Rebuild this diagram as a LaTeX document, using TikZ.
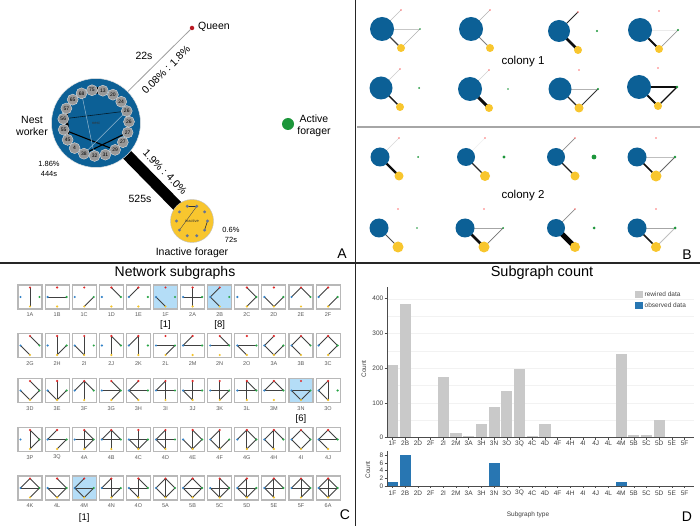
\documentclass[tikz,border=0pt]{standalone}
\usepackage{fontspec}
\setmainfont{Liberation Sans}
\usetikzlibrary{calc}
\definecolor{nestblue}{RGB}{12,96,150}
\definecolor{inactyellow}{RGB}{248,198,46}
\definecolor{actgreen}{RGB}{28,150,58}
\definecolor{queenred}{RGB}{185,25,35}
\definecolor{ringgray}{RGB}{152,152,152}
\definecolor{dotgray}{RGB}{100,115,150}
\definecolor{hlblue}{RGB}{180,221,247}
\definecolor{bargray}{RGB}{201,201,201}
\definecolor{barblue}{RGB}{40,118,178}
\definecolor{sgred}{RGB}{225,40,40}
\definecolor{sgblue}{RGB}{50,130,200}
\definecolor{sggreen}{RGB}{40,165,70}
\definecolor{sgyellow}{RGB}{245,195,40}
\newcommand\myfs[2]{\fontsize{#1}{#2}\selectfont}
\begin{document}
\begin{tikzpicture}[x=1pt,y=-1pt,
  lbl/.style={inner sep=0, font=\myfs{10.5}{12.5}, align=center},
  small/.style={inner sep=0, font=\myfs{7.5}{10}, align=center},
  ringnode/.style={circle, fill=ringgray, draw=white!75!gray, line width=0.4, minimum size=11, inner sep=0, font=\myfs{5}{5}},
  inadot/.style={circle, fill=dotgray, minimum size=3.2, inner sep=0},
  sgbox/.style={rectangle, draw=black!28, line width=1.1, minimum size=24, inner sep=0},
  sgedge/.style={draw=black!75, line width=0.9},
  sgdot/.style={circle, minimum size=2.4, inner sep=0},
  sglab/.style={inner sep=0, font=\myfs{5.5}{6}, text=black!65},
  ticklab/.style={inner sep=0, font=\myfs{6.5}{7}, text=black!75},
  axisline/.style={draw=black!70, line width=0.6},
  panellab/.style={inner sep=0, font=\myfs{14}{14}}]
\useasboundingbox (0,0) rectangle (700,526);
\fill[white] (0,0) rectangle (700,526);

% ---------------- dividers
\draw[line width=1.3, black!85] (355.5,0) -- (355.5,526);
\draw[line width=1.3, black!85] (0,263) -- (700,263);
\draw[line width=1.2, gray!70] (357,127) -- (700,127);

% ---------------- panel A
\coordinate (nc) at (96,123);
\coordinate (ic) at (192,221);
\node[circle, fill=queenred, minimum size=4.5, inner sep=0] (queen) at (192,28) {};
\node[lbl, anchor=west] (queenlab) at (198,27) {Queen};
\draw[gray!75, line width=0.8] (nc) -- (queen);
\draw[black, line width=11] (nc) -- (ic);
\node[circle, fill=nestblue, draw=white!80!gray, line width=0.5, minimum size=89, inner sep=0] (nest) at (nc) {};
\node[circle, fill=inactyellow, draw=gray!50, line width=0.4, minimum size=43, inner sep=0] (inact) at (ic) {};
% ring coordinates
\foreach \i in {0,...,18} {
  \pgfmathsetmacro\ang{97-18.947*\i}
  \coordinate (rc\i) at ($(nc)+(\ang:33pt)$);
}
\draw[black, line width=6.5] (rc0) -- (rc1);
\draw[black, line width=3] (rc16) -- (rc13);
\draw[black, line width=1.1] (rc14) -- (rc8);
\draw[black, line width=1.1] (rc11) -- (rc6);
\draw[black!70!nestblue, line width=0.6] (rc15) -- (rc4);
\draw[white!55!nestblue, line width=0.5] (rc18) -- (rc10);
\draw[white!55!nestblue, line width=0.5] (rc4) -- (rc11);
\node[inner sep=0, font=\myfs{4}{4}, text=black!80] (nestlab) at (nc) {nest};
\foreach \lab [count=\i from 0] in {75,13,20,24,26,26,27,27,29,31,32,38,4,45,55,56,57,65,68} {
  \node[ringnode] (r\i) at (rc\i) {\lab};
}
% inactive ring
\foreach \i in {0,...,9} {
  \pgfmathsetmacro\ang{108-36*\i}
  \coordinate (dc\i) at ($(ic)+(\ang:15.5pt)$);
}
\draw[black!80, line width=0.8] (dc0) -- (dc1);
\draw[black!70, line width=0.4] (dc1) -- (dc7);
\draw[black!80, line width=0.6] (dc3) -- (dc4);
\node[inner sep=0, font=\myfs{4}{4}, text=black!80] (inactlab) at (ic) {inactive};
\foreach \i in {0,...,9} { \node[inadot] (d\i) at (dc\i) {}; }

\node[lbl, anchor=center] (nestworker) at (32,126) {Nest\\worker};
\node[small] (neststat) at (49,168.5) {1.86\%\\444s};
\node[lbl] (t22) at (144,56) {22s};
\node[lbl, rotate=45] (pq) at (166,70) {0.08\% : 1.8\%};
\node[lbl, rotate=-45.6] (pi) at (165,172) {1.9\% : 4.0\%};
\node[lbl] (t525) at (140,199) {525s};
\node[small] (inactstat) at (231,235) {0.6\%\\72s};
\node[lbl] (inactname) at (192,253) {Inactive forager};
\node[circle, fill=actgreen, minimum size=12, inner sep=0] (active) at (288,124) {};
\node[lbl] (activelab) at (314,126) {Active\\forager};
\node[panellab] (pA) at (342,254) {A};

% ---------------- panel B
\foreach \n/\bx/\by/\br/\yr/\gr/\qc/\qw/\ic/\iw/\gc/\gw/\tc/\tw in {
 1/382/29/12/4/0.8/25/0.6/75/1.1/22/0.8/30/0.7,
 2/471/29/12/4/0/30/0.6/50/0.8/0/0/0/0,
 3/559/31/11/4/1.2/85/0.8/95/2.6/0/0/0/0,
 4/640/30/12/4/1.2/0/0/95/1.8/8/0.8/40/0.7,
 5/381/88/11.5/4/1.0/20/0.6/90/1.4/0/0/0/0,
 6/470/89/12/4/0.8/18/0.6/95/3.0/0/0/0/0,
 7/560/89/11.5/4.5/1.2/0/0/85/1.2/30/0.8/80/0.8,
 8/639/87/12/4/1.4/0/0/95/2.0/95/1.2/95/1.2,
 9/380/157/9.5/4.5/1.0/15/0.6/95/2.4/0/0/0/0,
 10/466/157/9/5/1.6/6/0.6/85/1.2/0/0/0/0,
 11/556/157/9/4.5/2.4/45/0.7/90/1.3/0/0/0/0,
 12/637/157/9.5/5.5/1.3/0/0/95/1.6/25/0.8/60/0.8,
 13/379/228/9.5/5.5/0.8/0/0/70/1.0/0/0/0/0,
 14/465/228/9.5/5.5/1.0/0/0/95/2.6/35/0.9/55/0.7,
 15/556/228/9/5/1.5/45/0.7/98/5.0/0/0/0/0,
 16/637/228/9.5/5/1.5/0/0/90/1.5/35/0.8/25/0.8} {
  \coordinate (B\n-b) at (\bx,\by);
  \coordinate (B\n-i) at (\bx+19,\by+19);
  \coordinate (B\n-q) at (\bx+19,\by-19);
  \coordinate (B\n-g) at (\bx+38,\by);
  \ifdim\qw pt>0pt \draw[draw=black!\qc, line width=\qw] (B\n-b) -- (B\n-q); \fi
  \ifdim\iw pt>0pt \draw[draw=black!\ic, line width=\iw] (B\n-b) -- (B\n-i); \fi
  \ifdim\gw pt>0pt \draw[draw=black!\gc, line width=\gw] (B\n-b) -- (B\n-g); \fi
  \ifdim\tw pt>0pt \draw[draw=black!\tc, line width=\tw] (B\n-g) -- (B\n-i); \fi
  \node[circle, fill=nestblue, minimum size=2*\br, inner sep=0] (B\n-bn) at (B\n-b) {};
  \node[circle, fill=inactyellow, minimum size=2*\yr, inner sep=0] (B\n-in) at (B\n-i) {};
  \node[circle, fill=red!55, minimum size=1.6, inner sep=0] (B\n-qn) at (B\n-q) {};
  \ifdim\gr pt>0pt \node[circle, fill=actgreen, minimum size=2*\gr, inner sep=0] (B\n-gn) at (B\n-g) {}; \fi
}
\node[inner sep=0, font=\myfs{11.5}{12}] (col1) at (523,62) {colony 1};
\node[inner sep=0, font=\myfs{11.5}{12}] (col2) at (523,196) {colony 2};
\node[panellab] (pB) at (687,255) {B};

% ---------------- panel C
\node[inner sep=0, font=\myfs{14}{14}] (ctitle) at (175,273) {Network subgraphs};
\foreach \lab/\c/\r/\eqi/\ena/\eai/\eqa/\eqn/\eni/\hl in {
 1A/0/0/1/0/0/0/0/0/0, 1B/1/0/0/1/0/0/0/0/0, 1C/2/0/0/0/1/0/0/0/0, 1D/3/0/0/0/0/1/0/0/0,
 1E/4/0/0/0/0/0/1/0/0, 1F/5/0/0/0/0/0/0/1/1, 2A/6/0/1/1/0/0/0/0/0, 2B/7/0/0/0/0/0/1/1/1,
 2C/8/0/0/0/1/1/0/0/0, 2D/9/0/0/0/1/0/0/1/0, 2E/10/0/0/0/0/1/1/0/0, 2F/11/0/0/0/1/0/1/0/0,
 2G/0/1/0/0/0/1/0/1/0, 2H/1/1/1/0/1/0/0/0/0, 2I/2/1/1/0/0/0/0/1/0, 2J/3/1/1/0/0/1/0/0/0,
 2K/4/1/1/0/0/0/1/0/0, 2L/5/1/0/1/1/0/0/0/0, 2M/6/1/0/1/0/0/1/0/0, 2N/7/1/0/1/0/1/0/0/0,
 2O/8/1/0/1/0/0/0/1/0, 3A/9/1/0/0/1/0/1/1/0, 3B/10/1/0/0/0/1/1/1/0, 3C/11/1/0/0/1/1/1/0/0,
 3D/0/2/0/0/1/1/0/1/0, 3E/1/2/1/0/1/0/0/1/0, 3F/2/2/1/0/0/1/1/0/0, 3G/3/2/0/1/1/1/0/0/0,
 3H/4/2/0/1/0/0/1/1/0, 3I/5/2/1/1/0/0/1/0/0, 3J/6/2/1/1/0/0/0/1/0, 3K/7/2/1/1/1/0/0/0/0,
 3L/8/2/1/1/0/1/0/0/0, 3M/9/2/0/1/0/1/1/0/0, 3N/10/2/0/1/1/0/0/1/1, 3O/11/2/1/0/0/0/1/1/0,
 3P/0/3/1/0/1/1/0/0/0, 3Q/1/3/0/1/1/0/1/0/0, 4A/2/3/1/1/1/1/0/0/0, 4B/3/3/1/1/0/1/1/0/0,
 4C/4/3/1/1/1/0/0/1/0, 4D/5/3/1/1/0/0/1/1/0, 4E/6/3/1/0/1/1/0/1/0, 4F/7/3/1/0/1/0/1/1/0,
 4G/8/3/1/0/1/1/1/0/0, 4H/9/3/1/0/0/1/1/1/0, 4I/10/3/0/0/1/1/1/1/0, 4J/11/3/0/1/0/1/1/1/0,
 4K/0/4/0/1/1/1/1/0/0, 4L/1/4/0/1/1/1/0/1/0, 4M/2/4/0/1/1/0/1/1/1, 4N/3/4/1/1/1/0/1/0/0,
 4O/4/4/1/1/0/1/0/1/0, 5A/5/4/1/0/1/1/1/1/0, 5B/6/4/0/1/1/1/1/1/0, 5C/7/4/1/1/1/1/0/1/0,
 5D/8/4/1/1/1/0/1/1/0, 5E/9/4/1/1/0/1/1/1/0, 5F/10/4/1/1/1/1/1/0/0, 6A/11/4/1/1/1/1/1/1/0} {
  \pgfmathsetmacro\cx{30+27.1*\c}
  \pgfmathsetmacro\cy{{297,345.5,390.5,439.5,488}[\r]}
  \ifnum\hl=1 \def\boxfill{hlblue}\else\def\boxfill{white}\fi
  \node[sgbox, fill=\boxfill] (S\lab) at (\cx,\cy) {};
  \coordinate (S\lab-q) at (\cx,\cy-9.5);
  \coordinate (S\lab-n) at (\cx-9.5,\cy);
  \coordinate (S\lab-a) at (\cx+9.5,\cy);
  \coordinate (S\lab-i) at (\cx,\cy+9.5);
  \ifnum\eqi=1 \draw[sgedge] (S\lab-q) -- (S\lab-i);\fi
  \ifnum\ena=1 \draw[sgedge] (S\lab-n) -- (S\lab-a);\fi
  \ifnum\eai=1 \draw[sgedge] (S\lab-a) -- (S\lab-i);\fi
  \ifnum\eqa=1 \draw[sgedge] (S\lab-q) -- (S\lab-a);\fi
  \ifnum\eqn=1 \draw[sgedge] (S\lab-q) -- (S\lab-n);\fi
  \ifnum\eni=1 \draw[sgedge] (S\lab-n) -- (S\lab-i);\fi
  \node[sgdot, fill=sgred] (S\lab-Q) at (S\lab-q) {};
  \node[sgdot, fill=sgblue] (S\lab-N) at (S\lab-n) {};
  \node[sgdot, fill=sggreen] (S\lab-A) at (S\lab-a) {};
  \node[sgdot, fill=sgyellow] (S\lab-I) at (S\lab-i) {};
  \node[sglab] (L\lab) at (\cx,\cy+18) {\lab};
}
\node[inner sep=0, font=\myfs{9.5}{10}] (n1F) at (165.5,325) {[1]};
\node[inner sep=0, font=\myfs{9.5}{10}] (n2B) at (219.7,325) {[8]};
\node[inner sep=0, font=\myfs{9.5}{10}] (n3N) at (301,419) {[6]};
\node[inner sep=0, font=\myfs{9.5}{10}] (n4M) at (84.2,518) {[1]};
\node[panellab] (pC) at (345,515) {C};

% ---------------- panel D
\node[inner sep=0, font=\myfs{14.5}{15}] (dtitle) at (542,273) {Subgraph count};
\foreach \v in {50,100,...,400} {
  \pgfmathsetmacro\gy{437.5-0.347*\v}
  \draw[black!5, line width=0.4] (387,\gy) -- (694,\gy);
}
\foreach \lab/\v/\o [count=\k from 0] in {1F/210/1,2B/385/8,2D/0/0,2F/0/0,2I/173/0,2M/14/0,3A/3/0,3H/38/0,3N/87/6,3O/133/0,3Q/198/0,4C/4/0,4D/38/0,4F/0/0,4H/0/0,4I/1/0,4J/2/0,4L/0/0,4M/240/1,5B/8/0,5C/6/0,5D/50/0,5E/0/0,5F/0/0} {
  \pgfmathsetmacro\bx{392.5+12.7*\k}
  \pgfmathsetmacro\bt{437.5-0.347*\v}
  \pgfmathsetmacro\ot{486-3.85*\o}
  \ifnum\v>0 \fill[bargray] (\bx-5.6,437.5) rectangle (\bx+5.6,\bt); \fi
  \ifnum\o>0 \fill[barblue] (\bx-5.6,486) rectangle (\bx+5.6,\ot); \fi
  \draw[axisline] (\bx,437.5) -- (\bx,439.5);
  \draw[axisline] (\bx,486) -- (\bx,488);
  \node[ticklab] (U\lab) at (\bx,443.5) {\lab};
  \node[ticklab] (W\lab) at (\bx,493) {\lab};
}
\draw[axisline] (387,287) -- (387,437.5) -- (694,437.5);
\draw[axisline] (387,451) -- (387,486) -- (694,486);
\foreach \v in {0,100,200,300,400} {
  \pgfmathsetmacro\gy{437.5-0.347*\v}
  \draw[axisline] (384.5,\gy) -- (387,\gy);
  \node[ticklab, anchor=east] (Y\v) at (383.5,\gy) {\v};
}
\foreach \v in {0,2,4,6,8} {
  \pgfmathsetmacro\gy{486-3.85*\v}
  \draw[axisline] (384.5,\gy) -- (387,\gy);
  \node[ticklab, anchor=east] (Z\v) at (383.5,\gy) {\v};
}
\node[ticklab, rotate=90] (cnt1) at (364,369) {Count};
\node[ticklab, rotate=90] (cnt2) at (368,470) {Count};
\node[ticklab] (stype) at (528,515) {Subgraph type};
\node[fill=bargray, minimum size=7.5, inner sep=0] (legg) at (639,294.5) {};
\node[fill=barblue, minimum size=7.5, inner sep=0] (legb) at (639,305.5) {};
\node[ticklab, anchor=west] (leggt) at (644.5,294.5) {rewired data};
\node[ticklab, anchor=west] (legbt) at (644.5,305.5) {observed data};
\node[panellab] (pD) at (687,517) {D};
\end{tikzpicture}
\end{document}
